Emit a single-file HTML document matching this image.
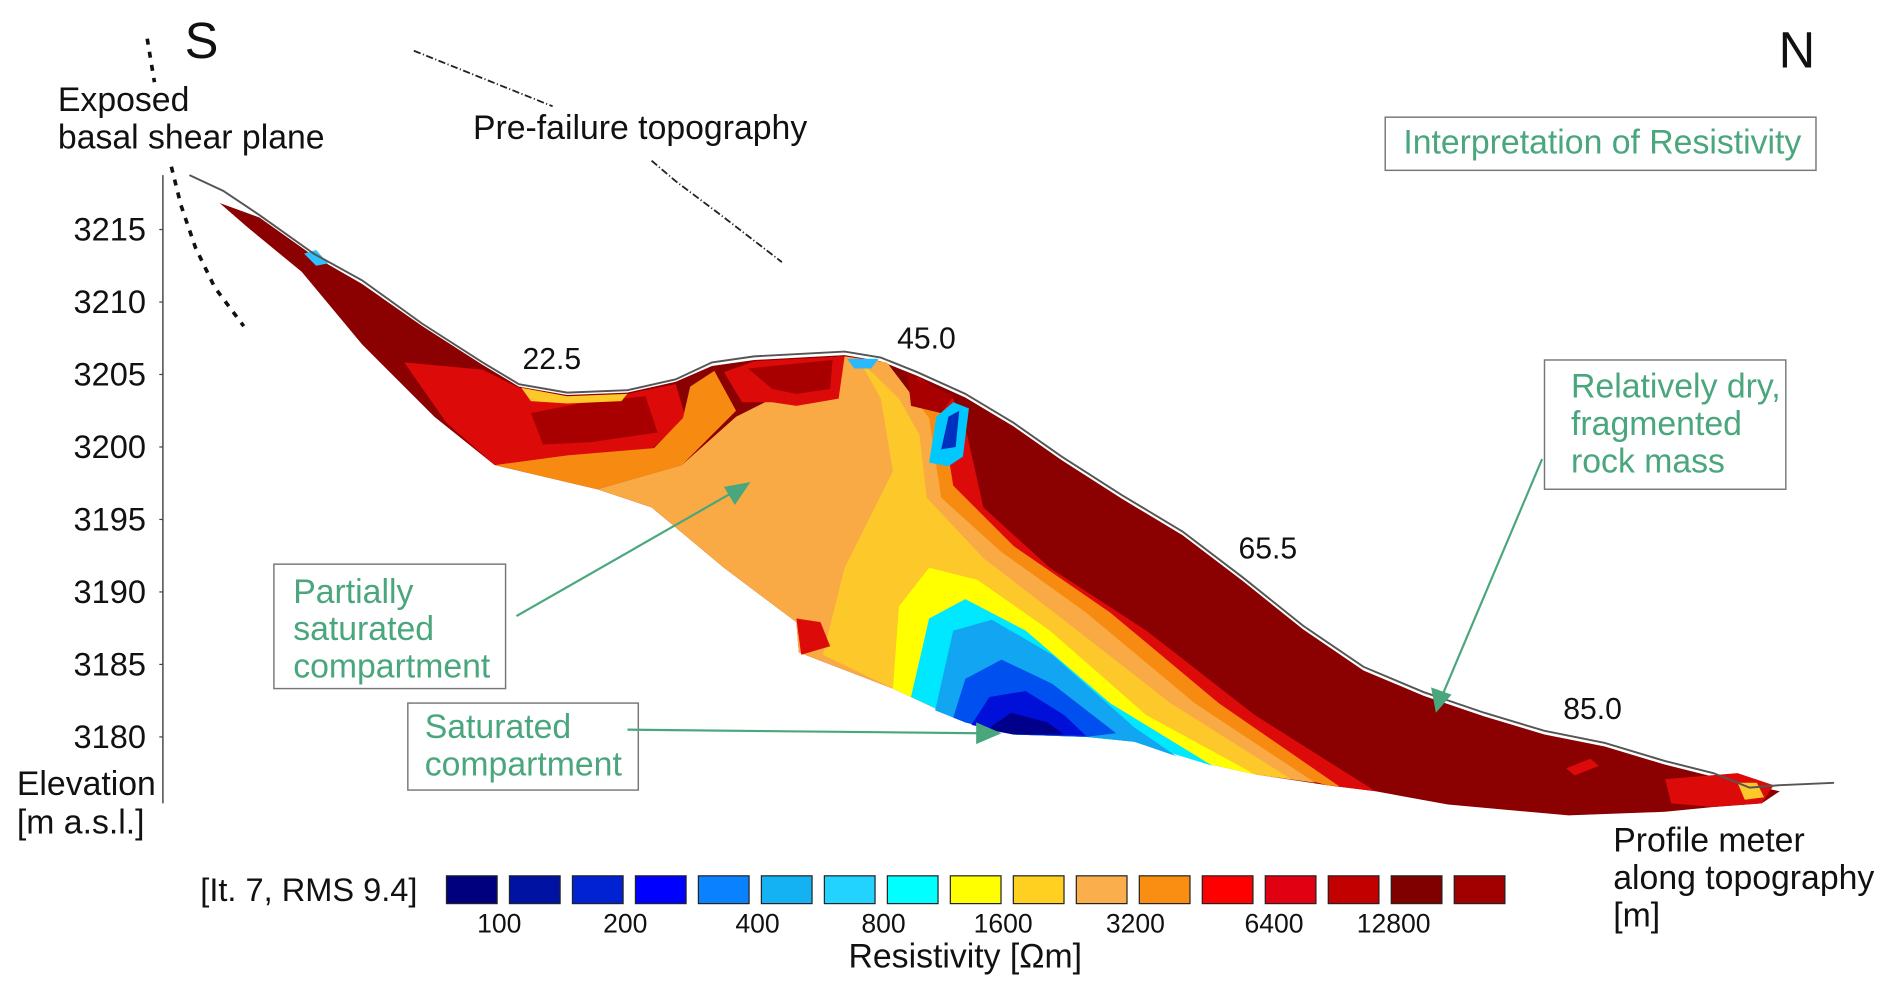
<!DOCTYPE html>
<html><head><meta charset="utf-8"><style>
html,body{margin:0;padding:0;background:#fff;}
svg{display:block;font-family:"Liberation Sans",sans-serif;}
</style></head><body>
<svg id="chart" width="1892" height="993" viewBox="0 0 1568 822" preserveAspectRatio="none" xmlns="http://www.w3.org/2000/svg">
<g id="section">
<polygon fill="#8b0000" points="182,168 215,180 260,212 300,235 350,270 400,302 430,320 470,327 520,325 560,316 590,303 625,298 700,294 730,299 760,311 800,329 840,353 880,381 930,413 980,443 1030,481 1080,521 1130,555 1180,576 1230,593 1280,608 1330,618 1380,633 1420,643 1475,655 1460,665 1420,668 1380,672 1300,675 1200,666 1140,655 1100,650 1040,641 1000,632 940,614 900,610 840,608 800,598 740,570 662,540 660,515 600,470 540,420 495,405 410,385 360,345 300,285 250,225 205,188"/>
<polygon fill="#dd0a0a" points="335,300 400,306 430,321 470,328 520,326 560,318 568,345 540,372 470,377 410,385 370,350"/>
<polygon fill="#a80000" points="440,342 480,334 535,328 545,358 490,366 450,368"/>
<polygon fill="#f78b12" points="410,385 470,377 542,371 566,346 572,320 592,307 610,340 565,385 495,405"/>
<polygon fill="#dd0a0a" points="760,312 790,330 802,362 815,420 870,470 950,522 1040,592 1140,655 1100,650 760,560"/>
<polygon fill="#f78b12" points="755,312 780,340 790,402 840,452 920,507 1010,582 1110,651 1100,650 760,560"/>
<polygon fill="#f9aa45" points="495,405 565,385 610,345 640,330 625,300 700,295 735,300 770,346 780,412 830,457 900,507 990,582 1090,648 1040,641 1000,632 940,614 900,610 840,608 800,598 740,570 662,540 660,515 600,470 540,420"/>
<polygon fill="#dd0a0a" points="600,308 625,299 700,295 695,330 660,336 640,333 615,333"/>
<polygon fill="#a80000" points="620,305 690,298 688,322 660,326 640,322"/>
<polygon fill="#a80000" points="752,309 790,328 780,342 755,336"/>
<polygon fill="#fdc92a" points="712,298 745,330 762,360 768,412 815,462 880,512 970,582 1070,645 1040,641 1000,632 940,614 900,610 840,608 800,598 740,570 682,542 700,470 740,390 730,330"/>
<polygon fill="#ffff00" points="740,570 745,502 770,470 810,480 870,522 950,592 1040,641 1000,632 940,614 900,610 840,608 800,598"/>
<polygon fill="#00e8ff" points="755,577 770,512 800,496 850,522 920,582 1005,634 940,614 900,610 840,608 800,598"/>
<polygon fill="#12a6f2" points="775,588 790,522 822,513 872,542 940,602 975,626 940,614 900,610 840,608 800,598"/>
<polygon fill="#0050f0" points="790,594 800,562 830,546 872,566 925,607 900,610 840,608 800,598"/>
<polygon fill="#0010d8" points="805,600 820,577 850,572 882,592 900,609 840,608"/>
<polygon fill="#00008a" points="818,604 838,590 868,598 882,608 840,608"/>
<polygon fill="#00c8ff" points="770,383 776,345 790,333 803,338 798,378 786,386"/>
<polygon fill="#0030c0" points="780,372 786,345 795,340 792,370"/>
<polygon fill="#2ab8ff" points="702,297 728,297 722,305 708,305"/>
<polygon fill="#30c0ff" points="252,210 262,207 272,218 262,220"/>
<polygon fill="#fdc92a" points="432,321 470,328 520,326 515,332 470,334 440,332"/>
<polygon fill="#dd0a0a" points="660,512 680,515 688,535 664,542"/>
<polygon fill="#dd0a0a" points="1380,645 1440,640 1470,650 1460,665 1420,668 1385,665"/>
<polygon fill="#dd0a0a" points="1298,636 1318,628 1325,634 1305,642"/>
<polygon fill="#fdc92a" points="1440,648 1456,648 1462,660 1446,662"/>
</g>
<polyline id="surface" fill="none" stroke="#555" stroke-width="1.6" points="157,145 185,158 215,178 260,210 300,232 350,268 400,300 430,318 470,325 520,323 560,314 590,300 625,295 700,291 730,296 760,308 800,326 840,350 880,378 930,410 980,440 1030,478 1080,518 1130,552 1180,573 1230,590 1280,605 1330,615 1380,630 1420,640 1450,652 1475,650 1520,648"/>
<g id="yaxis">
<line x1="135" y1="145" x2="135" y2="665" stroke="#444" stroke-width="1.2"/>
</g>
<g font-size="28" fill="#111">
<text x="153" y="48" font-size="42">S</text>
<text x="1474" y="56" font-size="42">N</text>
<text x="48" y="92">Exposed</text>
<text x="48" y="123">basal shear plane</text>
<text x="392" y="115">Pre-failure topography</text>
<text x="14" y="658">Elevation</text>
<text x="14" y="690">[m a.s.l.]</text>
<text x="1337" y="705">Profile meter</text>
<text x="1337" y="736">along topography</text>
<text x="1337" y="767">[m]</text>
<polyline fill="none" stroke="#111" stroke-width="3" stroke-dasharray="5,6" points="122,32 128,68"/>
<polyline fill="none" stroke="#111" stroke-width="3" stroke-dasharray="5,6" points="142,138 150,170 162,205 178,238 202,270"/>
<polyline fill="none" stroke="#222" stroke-width="1.5" stroke-dasharray="6,2,1,2" points="343,42 458,88"/>
<polyline fill="none" stroke="#222" stroke-width="1.5" stroke-dasharray="6,2,1,2" points="540,133 560,150 600,180 648,217"/>
</g>
<g id="profile-labels" font-size="24" fill="#111"></g>
<g fill="#4aa67c" font-size="28">
<rect x="1148" y="97" width="357" height="44" fill="#fff" stroke="#777" stroke-width="1.2"/>
<text x="1163" y="127">Interpretation of Resistivity</text>
<rect x="1280" y="298" width="200" height="107" fill="#fff" stroke="#777" stroke-width="1.2"/>
<text x="1302" y="329">Relatively dry,</text>
<text x="1302" y="360">fragmented</text>
<text x="1302" y="391">rock mass</text>
<rect x="227" y="467" width="192" height="103" fill="#fff" stroke="#777" stroke-width="1.2"/>
<text x="243" y="499">Partially</text>
<text x="243" y="530">saturated</text>
<text x="243" y="561">compartment</text>
<rect x="338" y="582" width="191" height="72" fill="#fff" stroke="#777" stroke-width="1.2"/>
<text x="352" y="611">Saturated</text>
<text x="352" y="642">compartment</text>
<g stroke="#4aa67c" stroke-width="1.8">
<line x1="428" y1="510" x2="610" y2="406"/>
<line x1="520" y1="604" x2="812" y2="607"/>
<line x1="1278" y1="380" x2="1196" y2="574"/>
</g>
<polygon points="622,399 600,403 609,418"/>
<polygon points="830,607 809,598 809,616"/>
<polygon points="1190,590 1186,569 1203,575"/>
</g>
<g id="colorbar">
<text x="166" y="746" font-size="27" fill="#111">[It. 7, RMS 9.4]</text>
<text x="800" y="801" font-size="28" fill="#111" text-anchor="middle">Resistivity [Ωm]</text>
</g>
</svg>
<script>
var yTicks=[3215,3210,3205,3200,3195,3190,3185,3180];
var profileTicks=["22.5","45.0","65.5","85.0"];
var profileX=[22.5,45.0,65.5,85.0];
var colorbarColors=["#00007f","#0012a2","#0022d2","#0000ff","#0a82ff","#14b2f2","#22d2ff","#00ffff","#ffff00","#ffd020","#fbae4c","#f98e12","#ff0000","#e00012","#c20000","#800000","#a20000"];
var colorbarLabels=["100","200","400","800","1600","3200","6400","12800"];
var colorbarLabelIdx=[0.8,2.8,4.9,6.9,8.8,10.9,13.1,15.0];
var NS="http://www.w3.org/2000/svg";
function yScale(v){return 190+(3215-v)*12;}
var ya=document.getElementById('yaxis');
yTicks.forEach(function(v){
 var t=document.createElementNS(NS,'text');
 
 
 t.setAttribute('x',121);t.setAttribute('y',yScale(v)+9);
 t.setAttribute('text-anchor','end');t.setAttribute('font-size','27');t.setAttribute('fill','#111');
 t.textContent=v;ya.appendChild(t);
 var l=document.createElementNS(NS,'line');
 
 
 l.setAttribute('x1',132);l.setAttribute('x2',135);l.setAttribute('y1',yScale(v));l.setAttribute('y2',yScale(v));l.setAttribute('stroke','#444');
 ya.appendChild(l);
});
var surf=[[157,145],[185,158],[215,178],[260,210],[300,232],[350,268],[400,300],[430,318],[470,325],[520,323],[560,314],[590,300],[625,295],[700,291],[730,296],[760,308],[800,326],[840,350],[880,378],[930,410],[980,440],[1030,478],[1080,518],[1130,552],[1180,573],[1230,590],[1280,605],[1330,615],[1380,630],[1420,640],[1450,652],[1475,650]];
function surfY(x){for(var i=1;i<surf.length;i++){if(x<=surf[i][0]){var a=surf[i-1],b=surf[i];return a[1]+(b[1]-a[1])*(x-a[0])/(b[0]-a[0]);}}return 650;}
function pScale(m){return 433+(m-22.5)*13.8;}
var pl=document.getElementById('profile-labels');
profileX.forEach(function(m,i){
 var x=pScale(m);
 var t=document.createElementNS(NS,'text');
 
 
 t.setAttribute('x',x);t.setAttribute('y',surfY(x)-13);t.setAttribute('font-size','25');
 t.textContent=profileTicks[i];pl.appendChild(t);
});
var cb=document.getElementById('colorbar');
function cbX(i){return 370+i*52.2;}
colorbarColors.forEach(function(c,i){
 var r=document.createElementNS(NS,'rect');
 
 
 r.setAttribute('x',cbX(i));r.setAttribute('y',725);r.setAttribute('width',42);r.setAttribute('height',23);
 r.setAttribute('fill',c);r.setAttribute('stroke','#222');r.setAttribute('stroke-width','1');
 cb.appendChild(r);
});
colorbarLabels.forEach(function(s,i){
 var t=document.createElementNS(NS,'text');
 
 
 t.setAttribute('x',cbX(colorbarLabelIdx[i])+2);t.setAttribute('y',772);
 t.setAttribute('text-anchor','middle');t.setAttribute('font-size','22');t.setAttribute('fill','#111');
 t.textContent=s;cb.appendChild(t);
});
</script>
</body></html>
